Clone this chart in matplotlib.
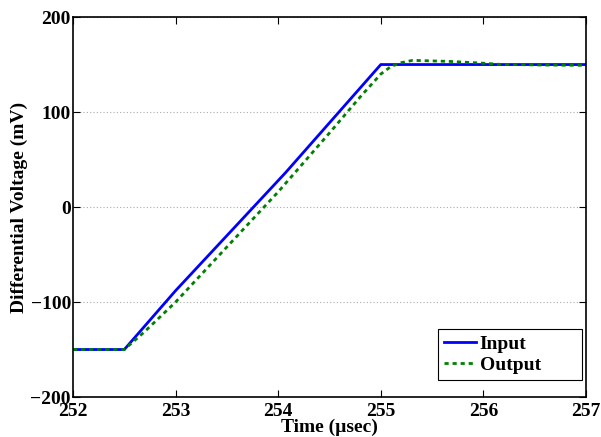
import numpy as np
import matplotlib.pyplot as plt

plt.rcParams['font.family'] = ['Liberation Serif', 'DejaVu Serif']
plt.rcParams['font.weight'] = 'bold'

# Input ramp (usec, mV)
t_in = [252.0, 252.5, 253.0, 254.07, 255.0, 257.0]
v_in = [-150, -150, -88, 36, 150, 150]

# Output, lagged with a small overshoot
t_out = [252.0, 252.5, 252.7, 253.0, 253.5, 254.0, 254.5, 254.8, 255.0, 255.1,
         255.2, 255.31, 255.67, 255.97, 256.16, 256.55, 256.94, 257.0]
v_out = [-150, -150, -131, -100, -42, 16, 78, 116, 140, 148,
         152, 154.4, 153.3, 151.6, 150.2, 149.5, 149.2, 149.2]

fig = plt.figure(figsize=(6.01, 4.37), dpi=100)
ax = fig.add_axes([0.1215, 0.0915, 0.8535, 0.8695])

ax.plot(t_in, v_in, color=(0, 0, 1), lw=2, label='Input')
ax.plot(t_out, v_out, color=(0, 0.5, 0), lw=2, linestyle=(0, (1.5, 1.4)), label='Output')

ax.set_xlim(252, 257)
ax.set_ylim(-200, 200)
ax.set_xticks([252, 253, 254, 255, 256, 257])
ax.set_yticks([-200, -100, 0, 100, 200])
ax.yaxis.grid(True, linestyle=(0, (1, 2)), color='#aaaaaa', lw=0.8)
ax.tick_params(direction='in', top=True, right=True, labelsize=14, length=5)
ax.tick_params(axis='x', pad=4.5)
ax.tick_params(axis='y', pad=1.5)
for s in ax.spines.values():
    s.set_linewidth(1.2)

ax.set_xlabel('Time (\u00b5sec)', fontsize=14, fontweight='bold', labelpad=-1)
ax.set_ylabel('Differential Voltage (mV)', fontsize=14, fontweight='bold', labelpad=2)

leg = ax.legend(loc='lower left', mode='expand', fontsize=14, fancybox=False,
                framealpha=1, edgecolor='black', handlelength=1.65,
                handletextpad=0.2, borderaxespad=0, borderpad=0.3,
                labelspacing=0.2, bbox_to_anchor=(0.7115, 0.0447, 0.2807, 0.145))
leg.get_frame().set_linewidth(0.8)

fig.savefig('out.png', dpi=100)
